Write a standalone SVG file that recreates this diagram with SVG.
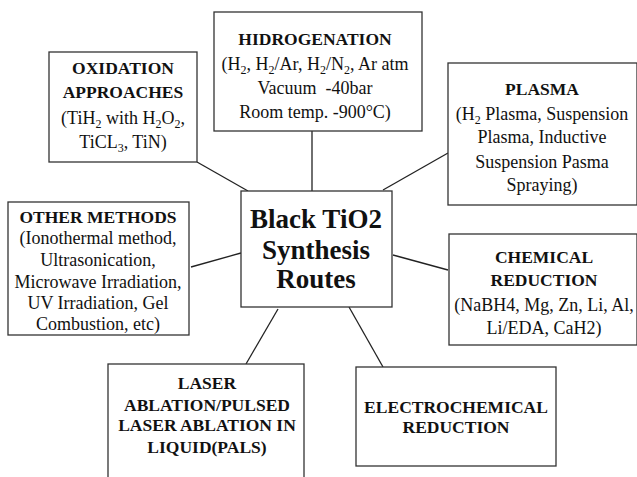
<svg xmlns="http://www.w3.org/2000/svg" width="637" height="477" viewBox="0 0 637 477">
<style>
rect.box{fill:#fff;stroke:#333;stroke-width:1.3}
text{font-family:"Liberation Serif","Times New Roman",serif;fill:#111;text-anchor:middle}
.t{font-weight:bold;font-size:17.5px}
.b{font-size:18px}
.c{font-weight:bold;font-size:27px}
.s{font-size:12px}
#connectors line{stroke:#222;stroke-width:1.3}
</style>
<rect width="637" height="477" fill="#fff"/>
<g id="connectors">
<line x1="197" y1="162" x2="248" y2="191"/>
<line x1="312" y1="131" x2="312" y2="191"/>
<line x1="448" y1="153" x2="383" y2="190"/>
<line x1="191" y1="267" x2="241" y2="253"/>
<line x1="393" y1="255" x2="448" y2="270"/>
<line x1="278" y1="309" x2="246" y2="364"/>
<line x1="349" y1="307" x2="383" y2="367"/>
</g>
<g id="center">
<rect class="box" x="241" y="191" width="151" height="116"/>
<text class="c" x="316" y="228">Black TiO2</text>
<text class="c" x="316" y="259">Synthesis</text>
<text class="c" x="316" y="288">Routes</text>
</g>
<g id="hidrogenation">
<rect class="box" x="214" y="12" width="208" height="119"/>
<text class="t" x="315" y="45">HIDROGENATION</text>
<text class="b" x="315" y="70">(H<tspan class="s" dy="4">2</tspan><tspan dy="-4">, H</tspan><tspan class="s" dy="4">2</tspan><tspan dy="-4">/Ar, H</tspan><tspan class="s" dy="4">2</tspan><tspan dy="-4">/N</tspan><tspan class="s" dy="4">2</tspan><tspan dy="-4">, Ar atm</tspan></text>
<text class="b" x="315" y="94" xml:space="preserve">Vacuum  -40bar</text>
<text class="b" x="315" y="118">Room temp. -900°C)</text>
</g>
<g id="oxidation">
<rect class="box" x="49" y="52" width="148" height="110"/>
<text class="t" x="123" y="74">OXIDATION</text>
<text class="t" x="123" y="98">APPROACHES</text>
<text class="b" x="123" y="124">(TiH<tspan class="s" dy="4">2</tspan><tspan dy="-4"> with H</tspan><tspan class="s" dy="4">2</tspan><tspan dy="-4">O</tspan><tspan class="s" dy="4">2</tspan><tspan dy="-4">,</tspan></text>
<text class="b" x="123" y="148">TiCL<tspan class="s" dy="4">3</tspan><tspan dy="-4">, TiN)</tspan></text>
</g>
<g id="plasma">
<rect class="box" x="448" y="63" width="189" height="142"/>
<text class="t" x="542" y="95">PLASMA</text>
<text class="b" x="542" y="120">(H<tspan class="s" dy="4">2</tspan><tspan dy="-4"> Plasma, Suspension</tspan></text>
<text class="b" x="542" y="143">Plasma, Inductive</text>
<text class="b" x="542" y="168">Suspension Pasma</text>
<text class="b" x="542" y="191">Spraying)</text>
</g>
<g id="other">
<rect class="box" x="8" y="202" width="181" height="133"/>
<text class="t" x="98" y="223">OTHER METHODS</text>
<text class="b" x="98" y="244">(Ionothermal method,</text>
<text class="b" x="98" y="266">Ultrasonication,</text>
<text class="b" x="98" y="288">Microwave Irradiation,</text>
<text class="b" x="98" y="309">UV Irradiation, Gel</text>
<text class="b" x="98" y="330">Combustion, etc)</text>
</g>
<g id="chemical">
<rect class="box" x="449" y="234" width="188" height="111"/>
<text class="t" x="544" y="263">CHEMICAL</text>
<text class="t" x="544" y="286">REDUCTION</text>
<text class="b" x="544" y="311">(NaBH4, Mg, Zn, Li, Al,</text>
<text class="b" x="544" y="334">Li/EDA, CaH2)</text>
</g>
<g id="laser">
<rect class="box" x="108" y="364" width="196" height="120"/>
<text class="t" x="207" y="389">LASER</text>
<text class="t" x="207" y="411">ABLATION/PULSED</text>
<text class="t" x="207" y="431">LASER ABLATION IN</text>
<text class="t" x="207" y="453">LIQUID(PALS)</text>
</g>
<g id="electrochemical">
<rect class="box" x="356" y="367" width="200" height="99"/>
<text class="t" x="456" y="413">ELECTROCHEMICAL</text>
<text class="t" x="456" y="433">REDUCTION</text>
</g>
</svg>
